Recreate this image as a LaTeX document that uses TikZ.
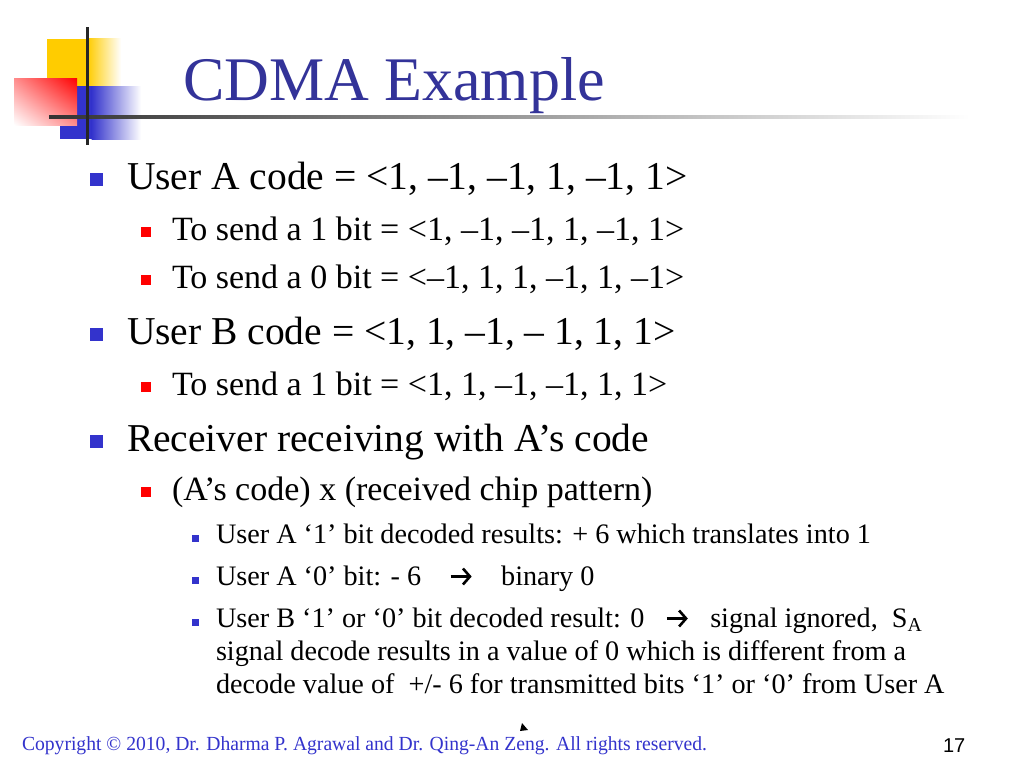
\documentclass[tikz,border=0pt]{standalone}
\usepackage{fontspec}
\usetikzlibrary{shadings,arrows.meta}
\setmainfont{Liberation Serif}
\newfontfamily\numfont{Liberation Sans}
\definecolor{titleblue}{HTML}{333399}
\definecolor{bulblue}{HTML}{3333CC}
\definecolor{logoyellow}{HTML}{FFCC00}
\definecolor{logoblue}{HTML}{3333CC}
\definecolor{footblue}{HTML}{3333CC}
\newcommand\warr{\tikz[baseline=0pt]{\draw[line width=2.6pt, -{Straight Barb[length=7pt,width=16pt,line width=2.6pt]}] (0pt,8.5pt) -- (21pt,8.5pt);}}
\tikzset{
  txt/.style={anchor=base west, inner sep=0pt, outer sep=0pt},
  lone/.style={txt, font=\fontsize{39.5}{40}\selectfont},
  ltwo/.style={txt, font=\fontsize{34}{36}\selectfont},
  lthree/.style={txt, font=\fontsize{28.2}{30}\selectfont},
  bone/.style={fill=bulblue, draw=none},
  btwo/.style={fill=red, draw=none},
  bthree/.style={fill=bulblue, draw=none},
}
\begin{document}
\begin{tikzpicture}[x=1pt,y=-1pt]
\useasboundingbox (0,0) rectangle (1024,768);
\fill[white] (0,0) rectangle (1024,768);
% logo
\fill[logoyellow] (47,39) rectangle (88,87);
\shade[left color=logoyellow, right color=white] (87.5,39) rectangle (121,87);
\fill[logoblue] (60,86) rectangle (92,139);
\shade[left color=logoblue, right color=white] (91.5,86) rectangle (141,139);
\shade[upper right=red, upper left=red!45!white, lower right=red!45!white, lower left=white] (14,78) rectangle (77,125);
\shade[left color=black!80, right color=white] (49,115.5) rectangle (970,118.5);
\fill[black!85] (85.5,27) rectangle (88.5,145);
% title
\node[txt, font=\fontsize{62}{64}\selectfont, text=titleblue] (title) at (183,100) {CDMA Example};
% level 1
\fill[bone] (89.5,173) rectangle (102.5,186);
\node[lone] (a1) at (127,189) {User A code = <1, –1, –1, 1, –1, 1>};
\fill[btwo] (140.5,227) rectangle (150.5,237);
\node[ltwo] (a2) at (172,240) {To send a 1 bit = <1, –1, –1, 1, –1, 1>};
\fill[btwo] (140.5,275) rectangle (150.5,285);
\node[ltwo] (a3) at (172,288) {To send a 0 bit = <–1, 1, 1, –1, 1, –1>};
\fill[bone] (89.5,328) rectangle (102.5,341);
\node[lone] (b1) at (127,344) {User B code = <1, 1, –1, – 1, 1, 1>};
\fill[btwo] (140.5,382) rectangle (150.5,392);
\node[ltwo] (b2) at (172,395) {To send a 1 bit = <1, 1, –1, –1, 1, 1>};
\fill[bone] (89.5,435) rectangle (102.5,448);
\node[lone] (c1) at (127,451) {Receiver receiving with A’s code};
\fill[btwo] (140.5,487) rectangle (150.5,497);
\node[ltwo] (c2) at (172,500) {(A’s code) x (received chip pattern)};
\fill[bthree] (192,535) rectangle (199,542);
\node[lthree] (d1) at (216,543) {User A ‘1’ bit decoded results: + 6 which translates into 1};
\fill[bthree] (192,577) rectangle (199,584);
\node[lthree] (d2) at (216,585) {User A ‘0’ bit: - 6\ \ \ \ \warr\ \ \ \ binary 0};
\fill[bthree] (192,619) rectangle (199,626);
\node[lthree] (d3) at (216,627) {User B ‘1’ or ‘0’ bit decoded result: 0\ \ \ \warr\ \ \ signal ignored,\ \ S\textsubscript{A}};
\node[lthree] (d4) at (216,660) {signal decode results in a value of 0 which is different from a};
\node[lthree] (d5) at (216,693) {decode value of\ \ +/- 6 for transmitted bits ‘1’ or ‘0’ from User A};
% footer
\node[txt, text=footblue] (foot) at (22,750) {\resizebox{685pt}{\height}{\fontsize{20}{22}\selectfont Copyright © 2010, Dr. Dharma P. Agrawal and Dr. Qing-An Zeng. All rights reserved.}};
\node[txt, font=\numfont\fontsize{20}{22}\selectfont] (num) at (943,752) {17};
\fill[black] (522,723) -- (520,731) -- (528,730) -- cycle;
\end{tikzpicture}
\end{document}
